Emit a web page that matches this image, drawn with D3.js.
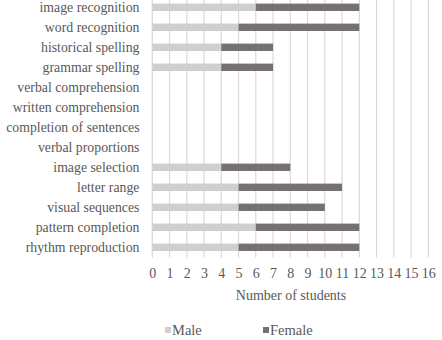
<!DOCTYPE html>
<html><head><meta charset="utf-8">
<script src="https://cdn.jsdelivr.net/npm/d3@7"></script>
<style>body{margin:0;background:#fff}svg{display:block}</style>
</head><body><svg id="c" width="442" height="340"></svg>
<script>
const categories = ["image recognition","word recognition","historical spelling","grammar spelling","verbal comprehension","written comprehension","completion of sentences","verbal proportions","image selection","letter range","visual sequences","pattern completion","rhythm reproduction"];
const male =   [6,5,4,4,0,0,0,0,4,5,5,6,5];
const female = [6,7,3,3,0,0,0,0,4,6,5,6,7];
const xTicks = d3.range(0,17);
const seriesNames = ["Male","Female"];
const colors = ["#d0cece","#767171"];
const FONT = '"Liberation Serif"';
const TXT = "#595959";

const svg = d3.select("#c");
const x = d3.scaleLinear().domain([0,16]).range([152.3,428.3]);
const y = d3.scaleBand().domain(categories).range([-2.7,257.3]).paddingInner(0.63).paddingOuter(0.315);

svg.append("g").selectAll("line").data(xTicks).join("line")
  .attr("x1",d=>x(d)).attr("x2",d=>x(d)).attr("y1",-2).attr("y2",257.5)
  .attr("stroke","#d9d9d9").attr("stroke-width",1.2);

const stacked = d3.stack().keys([0,1]).value((d,k)=>k===0?d.m:d.f)(categories.map((c,i)=>({c,m:male[i],f:female[i]})));
svg.append("g").selectAll("g").data(stacked).join("g").attr("fill",(d,i)=>colors[i])
  .selectAll("rect").data(d=>d.filter(s=>s[1]>s[0])).join("rect")
  .attr("x",d=>x(d[0])).attr("width",d=>x(d[1])-x(d[0]))
  .attr("y",d=>y(d.data.c)).attr("height",y.bandwidth());

svg.append("g").selectAll("text").data(categories).join("text")
  .attr("x",139.5).attr("y",d=>y(d)+y.bandwidth()/2).attr("dy","0.35em")
  .attr("text-anchor","end").style("font-family",FONT).style("font-size","13.8px").style("fill",TXT).text(d=>d);

const ax = svg.append("g").attr("transform","translate(0,257.5)").call(d3.axisBottom(x).tickValues(xTicks).tickSize(0).tickPadding(11));
ax.select(".domain").remove();
ax.selectAll("text").style("font-family",FONT).style("font-size","14px").style("fill",TXT);

svg.append("text").attr("x",291).attr("y",295).attr("dy","0.35em").attr("text-anchor","middle")
  .style("font-family",FONT).style("font-size","14px").style("fill",TXT).text("Number of students");

const legX = [165,263];
const lg = svg.append("g").selectAll("g").data(seriesNames).join("g").attr("transform",(d,i)=>`translate(${legX[i]},0)`);
lg.append("rect").attr("x",0).attr("y",327).attr("width",6).attr("height",6).attr("fill",(d,i)=>colors[i]);
lg.append("text").attr("x",7).attr("y",330).attr("dy","0.35em")
  .style("font-family",FONT).style("font-size","14.5px").style("fill",TXT).text(d=>d);
</script></body></html>
